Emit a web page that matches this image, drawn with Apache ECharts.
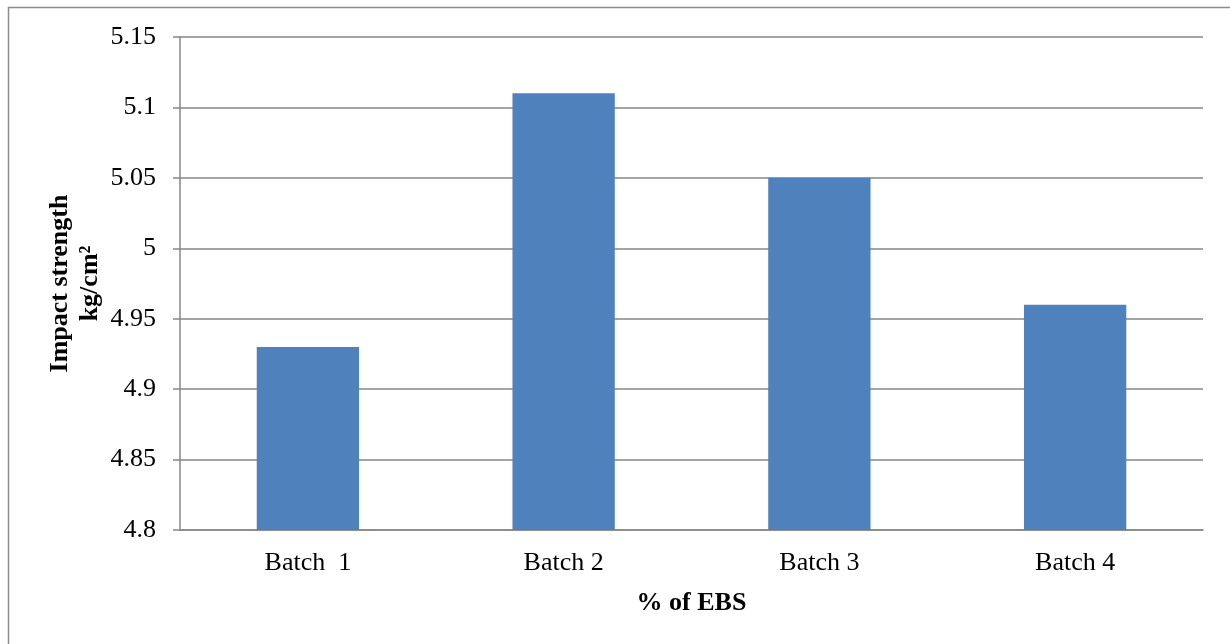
<!DOCTYPE html>
<html>
<head>
<meta charset="utf-8">
<title>Impact strength by batch</title>
<script src="https://cdn.jsdelivr.net/npm/echarts@6/dist/echarts.min.js"></script>
<style>
  html, body { margin: 0; padding: 0; background: #ffffff; }
  #chart { width: 1230px; height: 644px; }
</style>
</head>
<body>
<div id="chart"></div>
<script>
// Batches and their measured impact strength (kg/cm²)
const categories = ['Batch  1', 'Batch 2', 'Batch 3', 'Batch 4'];
const impactStrength = [4.93, 5.11, 5.05, 4.96];

// Value axis range and step
const yMin = 4.8;
const yMax = 5.15;
const yStep = 0.05;

const serif = '"Liberation Serif", "Times New Roman", serif';
const gridGrey = '#868686';

const chart = echarts.init(document.getElementById('chart'), null, { renderer: 'canvas' });

chart.setOption({
  backgroundColor: '#ffffff',
  animation: false,
  graphic: [{
    type: 'rect',
    silent: true,
    shape: { x: 8.5, y: 7.5, width: 1260, height: 680 },
    style: { fill: 'none', stroke: '#8c8c8c', lineWidth: 1.5 }
  }],
  grid: { left: 180, right: 27, top: 37, bottom: 114, containLabel: false },
  xAxis: {
    type: 'category',
    data: categories,
    name: '% of EBS',
    nameLocation: 'middle',
    nameGap: 60,
    nameMoveOverlap: false,
    nameTextStyle: { fontFamily: serif, fontSize: 26, fontWeight: 'bold', color: '#000' },
    axisLine: { show: true, lineStyle: { color: gridGrey, width: 1.5 } },
    axisTick: { show: false },
    axisLabel: { fontFamily: serif, fontSize: 26, color: '#000', margin: 20 },
    splitLine: { show: false }
  },
  yAxis: {
    type: 'value',
    min: yMin,
    max: yMax,
    interval: yStep,
    name: 'Impact strength\nkg/cm²',
    nameLocation: 'middle',
    nameGap: 75,
    nameMoveOverlap: false,
    nameRotate: 90,
    nameTextStyle: { fontFamily: serif, fontSize: 26, fontWeight: 'bold', color: '#000', lineHeight: 30, align: 'center' },
    axisLine: { show: true, lineStyle: { color: gridGrey, width: 1.5 } },
    axisTick: { show: true, inside: false, length: 7, lineStyle: { color: gridGrey, width: 1.5 } },
    axisLabel: {
      fontFamily: serif, fontSize: 26, color: '#000', margin: 24,
      formatter: v => String(parseFloat(v.toFixed(2)))
    },
    splitLine: { show: true, lineStyle: { color: gridGrey, width: 1.5 } }
  },
  series: [{
    type: 'bar',
    data: impactStrength,
    barWidth: '40%',
    itemStyle: { color: '#4F81BD' }
  }]
});
</script>
</body>
</html>
